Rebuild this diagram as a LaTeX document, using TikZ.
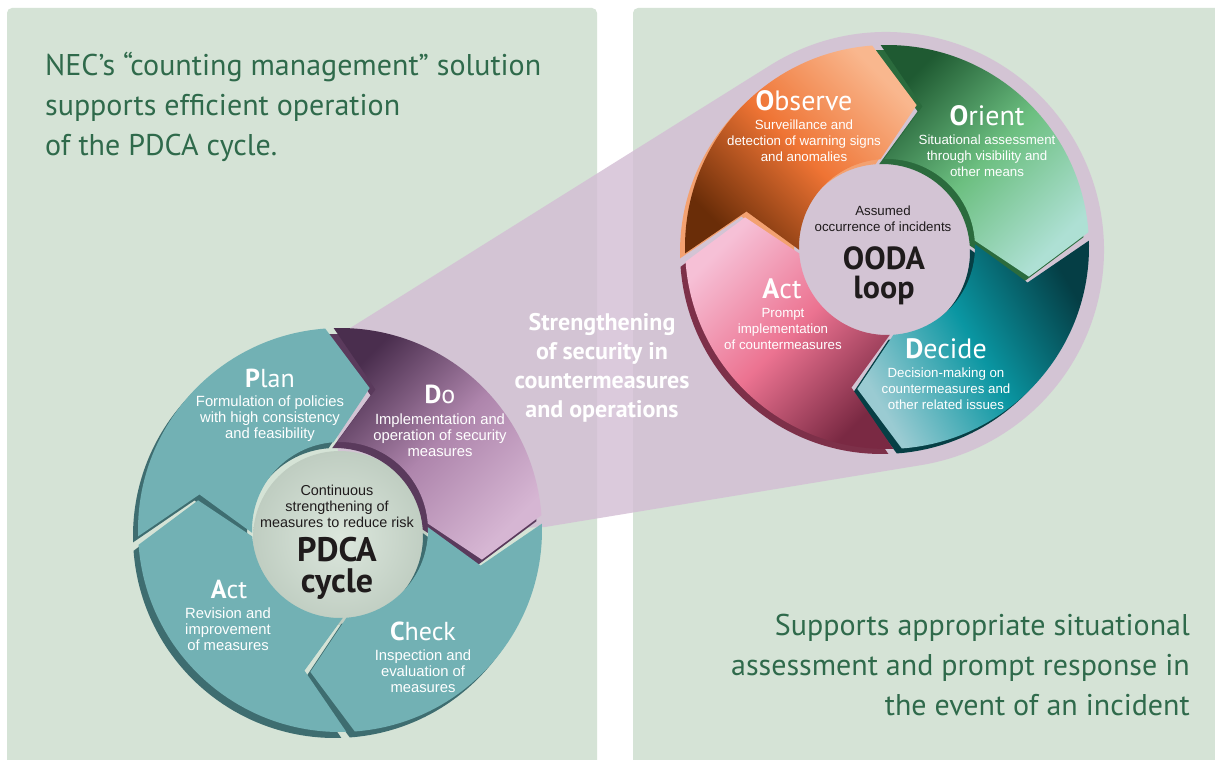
\documentclass[tikz,border=0pt]{standalone}
\usepackage{fontspec}
\setmainfont{Liberation Sans}
\newfontfamily\headfont{PT Sans}
\newfontfamily\cyclefont{PT Sans}
\usetikzlibrary{positioning}

\definecolor{panelgreen}{HTML}{D5E3D6}
\definecolor{headgreen}{HTML}{2F6A4B}
\definecolor{lilac}{RGB}{211,189,212}
\definecolor{tealface}{HTML}{72B1B4}
\definecolor{tealrim}{HTML}{3E6D70}
\definecolor{dorim}{HTML}{5A3A5C}
\definecolor{dodark}{HTML}{4A2E4E}
\definecolor{domid}{HTML}{AE85AC}
\definecolor{dolight}{HTML}{D6B6D3}
\definecolor{obsrim}{HTML}{F3A170}
\definecolor{obslight}{HTML}{F9B78E}
\definecolor{obsmid}{HTML}{EF7434}
\definecolor{obsdark}{HTML}{6A2D08}
\definecolor{oririm}{HTML}{2B6B3D}
\definecolor{oridark}{HTML}{1F5A32}
\definecolor{orimid}{HTML}{6CBF80}
\definecolor{orilight}{HTML}{AEE0D4}
\definecolor{decrim}{HTML}{063F45}
\definecolor{decdark}{HTML}{053E45}
\definecolor{decmid}{HTML}{0A96A2}
\definecolor{declight}{HTML}{9ACBD2}
\definecolor{actrim}{HTML}{7D3049}
\definecolor{actlight}{HTML}{F6C0D6}
\definecolor{actmid}{HTML}{EC7391}
\definecolor{actdark}{HTML}{7A2943}
\definecolor{inkblack}{HTML}{1F1B1C}
\definecolor{diskgreen}{HTML}{DCE7DD}
\definecolor{diskedge}{HTML}{BFCDC1}

% ring segment with a chevron head, drawn round the origin of the scope
\newcommand{\Rout}{202}
\newcommand{\Rin}{88}
\newcommand{\Rmid}{145}
\newcommand{\segGap}{1.2}
\newcommand{\chev}{16}
\newcommand{\seg}[2]{({#1+\segGap}:\Rout) arc[start angle={#1+\segGap}, end angle={#2-\segGap}, radius=\Rout]
  -- ({#2-\segGap+\chev}:\Rmid) -- ({#2-\segGap}:\Rin)
  arc[start angle={#2-\segGap}, end angle={#1+\segGap}, radius=\Rin]
  -- ({#1+\segGap+\chev}:\Rmid) -- cycle}

\tikzset{
  panel/.style={fill=panelgreen, rounded corners=5pt},
  headtext/.style={font=\headfont\fontsize{30}{38}\selectfont, text=headgreen, inner sep=0pt},
  cyclelabel/.style={font=\cyclefont\fontsize{26}{30}\selectfont, text=white, inner sep=0pt, anchor=base},
  oodalabel/.style={cyclelabel, font=\cyclefont\fontsize{28}{30}\selectfont},
  pdcatext/.style={font=\fontsize{14.8}{16}\selectfont, text=white, align=center, inner sep=0pt},
  oodatext/.style={font=\fontsize{13.3}{16}\selectfont, text=white, align=center, inner sep=0pt},
  hubtext/.style={font=\fontsize{14.4}{16}\selectfont, text=inkblack, align=center, inner sep=0pt},
  cyclename/.style={text=inkblack, align=center, inner sep=0pt},
  strengthtext/.style={font=\cyclefont\bfseries\fontsize{24}{29}\selectfont, align=center, inner sep=0pt},
}

\begin{document}
\begin{tikzpicture}[x=1pt, y=-1pt]
  \useasboundingbox (0,0) rectangle (1215,760);
  \clip (0,0) rectangle (1215,760);
  \fill[white] (0,0) rectangle (1215,760);

  % Panels
  \fill[panel] (7,8) rectangle (597,790);
  \fill[panel] (633,8) rectangle (1240,790);

  % Headings
  \node[headtext, anchor=base west] (headA) at (45,75) {NEC’s “counting management” solution};
  \node[headtext, anchor=base west] (headB) at (45,115) {supports efficient operation};
  \node[headtext, anchor=base west] (headC) at (45,155) {of the PDCA cycle.};
  \node[headtext, anchor=base east] (footA) at (1190,635) {Supports appropriate situational};
  \node[headtext, anchor=base east] (footB) at (1190,675) {assessment and prompt response in};
  \node[headtext, anchor=base east] (footC) at (1190,715) {the event of an incident};

  % Funnel from Do to the OODA loop
  \fill[lilac, opacity=0.8] (335,337.5) -- (770.5,65.1) arc[start angle=238, end angle=440.6, radius=218]
    -- (545,527) -- (340,535) -- cycle;

  % PDCA cycle
  \shade[inner color=diskgreen, outer color=diskedge] (340,538) circle[radius=87];
  \begin{scope}[shift={(340,530)}]
    \fill[tealrim, shift={(-5,6)}] \seg{177}{267};
    \fill[dorim, shift={(-5,6)}] \seg{267}{357};
    \fill[tealrim, shift={(-5,6)}] \seg{357}{447};
    \fill[tealrim, shift={(-5,6)}] \seg{87}{177};
    \fill[tealface] \seg{177}{267};
    \shade[top color=dodark, bottom color=dolight, middle color=domid, shading angle=45] \seg{267}{357};
    \fill[tealface] \seg{357}{447};
    \fill[tealface] \seg{87}{177};
  \end{scope}

  % OODA loop
  \begin{scope}[shift={(887,247)}]
    \fill[obsrim, shift={(-5,5)}] \seg{177}{267};
    \fill[oririm, shift={(-5,5)}] \seg{267}{357};
    \fill[decrim, shift={(-5,5)}] \seg{357}{447};
    \fill[actrim, shift={(-5,5)}] \seg{87}{177};
    \shade[top color=obslight, bottom color=obsdark, middle color=obsmid, shading angle=-45] \seg{177}{267};
    \shade[top color=oridark, bottom color=orilight, middle color=orimid, shading angle=45] \seg{267}{357};
    \shade[top color=decdark, bottom color=declight, middle color=decmid, shading angle=-60] \seg{357}{447};
    \shade[top color=actlight, bottom color=actdark, middle color=actmid, shading angle=45] \seg{87}{177};
  \end{scope}

  % PDCA labels
  \node[cyclelabel] (plan) at (270,387) {\textbf{P}lan};
  \node[pdcatext] (plantext) at (270,419) {Formulation of policies\\with high consistency\\and feasibility};
  \node[cyclelabel] (do) at (440,403) {\textbf{D}o};
  \node[pdcatext] (dotext) at (440,435) {Implementation and\\operation of security\\measures};
  \node[cyclelabel] (check) at (423,640) {\textbf{C}heck};
  \node[pdcatext] (checktext) at (423,671) {Inspection and\\evaluation of\\measures};
  \node[cyclelabel] (act) at (229,598) {\textbf{A}ct};
  \node[pdcatext] (acttext) at (228,629) {Revision and\\improvement\\of measures};
  \node[hubtext] (pdcahub) at (337,506) {Continuous\\strengthening of\\measures to reduce risk};
  \node[cyclename, font=\cyclefont\bfseries\fontsize{34}{31}\selectfont] (pdca) at (337,568) {PDCA\\cycle};

  % OODA labels
  \node[oodalabel] (observe) at (804,110) {\textbf{O}bserve};
  \node[oodatext] (observetext) at (804,141) {Surveillance and\\detection of warning signs\\and anomalies};
  \node[oodalabel] (orient) at (987,125) {\textbf{O}rient};
  \node[oodatext] (orienttext) at (987,156) {Situational assessment\\through visibility and\\other means};
  \node[oodalabel] (decide) at (946,358) {\textbf{D}ecide};
  \node[oodatext] (decidetext) at (946,389) {Decision-making on\\countermeasures and\\other related issues};
  \node[oodalabel] (oact) at (782,298) {\textbf{A}ct};
  \node[oodatext] (oacttext) at (783,329) {Prompt\\implementation\\of countermeasures};
  \node[hubtext, font=\fontsize{13.3}{16}\selectfont] (oodahub) at (883,219) {Assumed\\occurrence of incidents};
  \node[cyclename, font=\cyclefont\bfseries\fontsize{32}{29.5}\selectfont] (ooda) at (884,276) {OODA\\loop};

  % Link text
  \node[strengthtext, text=white] (strength) at (602,368) {Strengthening\\of security in\\countermeasures\\and operations};
\end{tikzpicture}
\end{document}
